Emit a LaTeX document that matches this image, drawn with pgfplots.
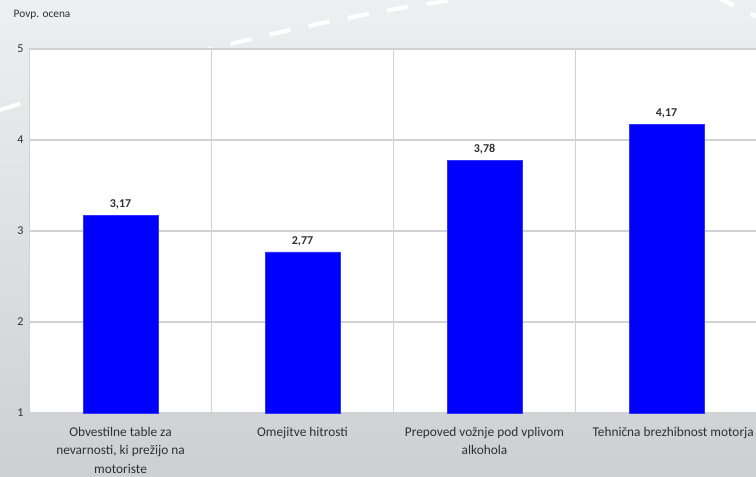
\documentclass[border=0pt]{standalone}
\usepackage{pgfplots}
\pgfplotsset{compat=1.18}
\usepackage{fontspec}
\setmainfont{Carlito}
\definecolor{bgtop}{HTML}{EEEFF0}
\definecolor{bgbot}{HTML}{CDD0D2}
\definecolor{gridgray}{HTML}{D2D2D2}
\definecolor{barblue}{HTML}{0000FF}
\definecolor{txt}{HTML}{303030}
\begin{document}
\begin{tikzpicture}[x=0.75pt,y=0.75pt]
\useasboundingbox (0,0) rectangle (756,476);
\clip (0,0) rectangle (756,476);
\shade[top color=bgtop,bottom color=bgbot] (0,0) rectangle (756,476);
\draw[white, line width=3pt, dash pattern=on 16pt off 14pt] (0,366) .. controls (200,430) and (360,466) .. (500,482);
\draw[white, line width=3pt, dash pattern=on 16pt off 14pt] (715,480) .. controls (735,470) and (750,462) .. (760,458);
\node[anchor=west, font=\fontsize{8.5}{9}\selectfont, text=txt] at (9,461) {Povp. ocena};
\begin{axis}[
  at={(22.125pt,47.25pt)}, anchor=south west, scale only axis,
  width=546pt, height=273pt,
  ymin=1, ymax=5, ytick={1,2,3,4,5},
  xmin=-0.5, xmax=3.5, xtick={0,1,2,3},
  minor xtick={0.5,1.5,2.5},
  xticklabels={{Obvestilne table za\\nevarnosti, ki prežijo na\\motoriste},{Omejitve hitrosti},{Prepoved vožnje pod vplivom\\alkohola},{\hspace*{10pt}Tehnična brezhibnost motorja}},
  xminorgrids, ymajorgrids,
  grid style={draw=gridgray, line width=1.1pt},
  minor grid style={draw=gridgray, line width=1.1pt},
  axis line style={draw=gridgray, line width=1pt},
  major tick length=0pt, minor tick length=0pt,
  axis background/.style={fill=white},
  ybar, bar width=56pt,
  enlarge x limits=false,
  xticklabel style={align=center, font=\fontsize{10}{14}\selectfont, text=txt, yshift=-7pt},
  yticklabel style={font=\fontsize{9}{10}\selectfont, text=txt, xshift=-1pt},
  /pgf/number format/assume math mode=true,
  nodes near coords,
  nodes near coords style={font=\bfseries\fontsize{9}{10}\selectfont, text=txt, yshift=1pt, /pgf/number format/.cd, use comma, fixed, fixed zerofill, precision=2},
]
\addplot[fill=barblue, draw=barblue!80!white] coordinates {(0,3.17) (1,2.77) (2,3.78) (3,4.17)};
\end{axis}
\end{tikzpicture}
\end{document}
